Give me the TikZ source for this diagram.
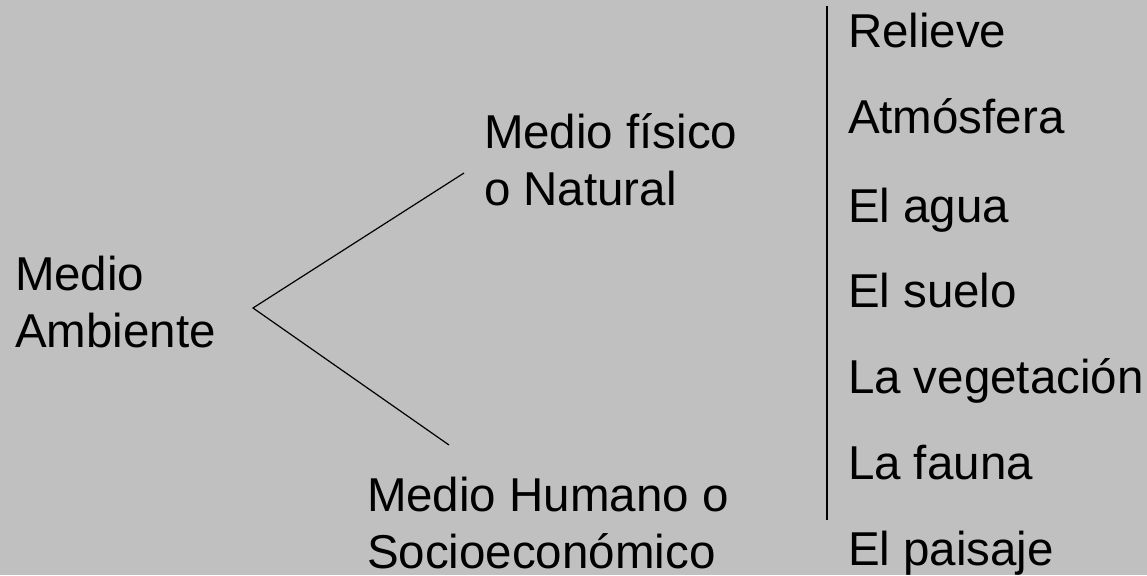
\documentclass[tikz,border=0pt]{standalone}
\usepackage{fontspec}
\setmainfont{Liberation Sans}
\definecolor{bg}{HTML}{C0C0C0}
\begin{document}
\begin{tikzpicture}[x=1pt,y=-1pt,
  lbl/.style={anchor=base west,inner sep=0pt,outer sep=0pt,align=left,font=\fontsize{47.5}{57}\selectfont},
  conn/.style={line width=1.2pt,black},
  bar/.style={line width=1.8pt,black}]
\fill[bg] (0,0) rectangle (1147,575);
\useasboundingbox (0,0) rectangle (1147,575);
\node[lbl] (ma) at (15,347) {Medio\\Ambiente};
\node[lbl] (mf) at (484,205) {Medio físico\\o Natural};
\node[lbl] (mh) at (367,568) {Medio Humano o\\Socioeconómico};
\node[lbl] (r1) at (848,48) {Relieve};
\node[lbl] (r2) at (848,133) {Atmósfera};
\node[lbl] (r3) at (848,222) {El agua};
\node[lbl] (r4) at (848,307) {El suelo};
\node[lbl] (r5) at (848,393) {La vegetación};
\node[lbl] (r6) at (848,479) {La fauna};
\node[lbl] (r7) at (848,565) {El paisaje};
\coordinate (apex) at (253,308);
\coordinate (nat) at (464,173);
\coordinate (hum) at (449,445);
\coordinate (bt) at (827,6);
\coordinate (bb) at (827,520);
\draw[conn] (nat) -- (apex) -- (hum);
\draw[bar] (bt) -- (bb);
\end{tikzpicture}
\end{document}
